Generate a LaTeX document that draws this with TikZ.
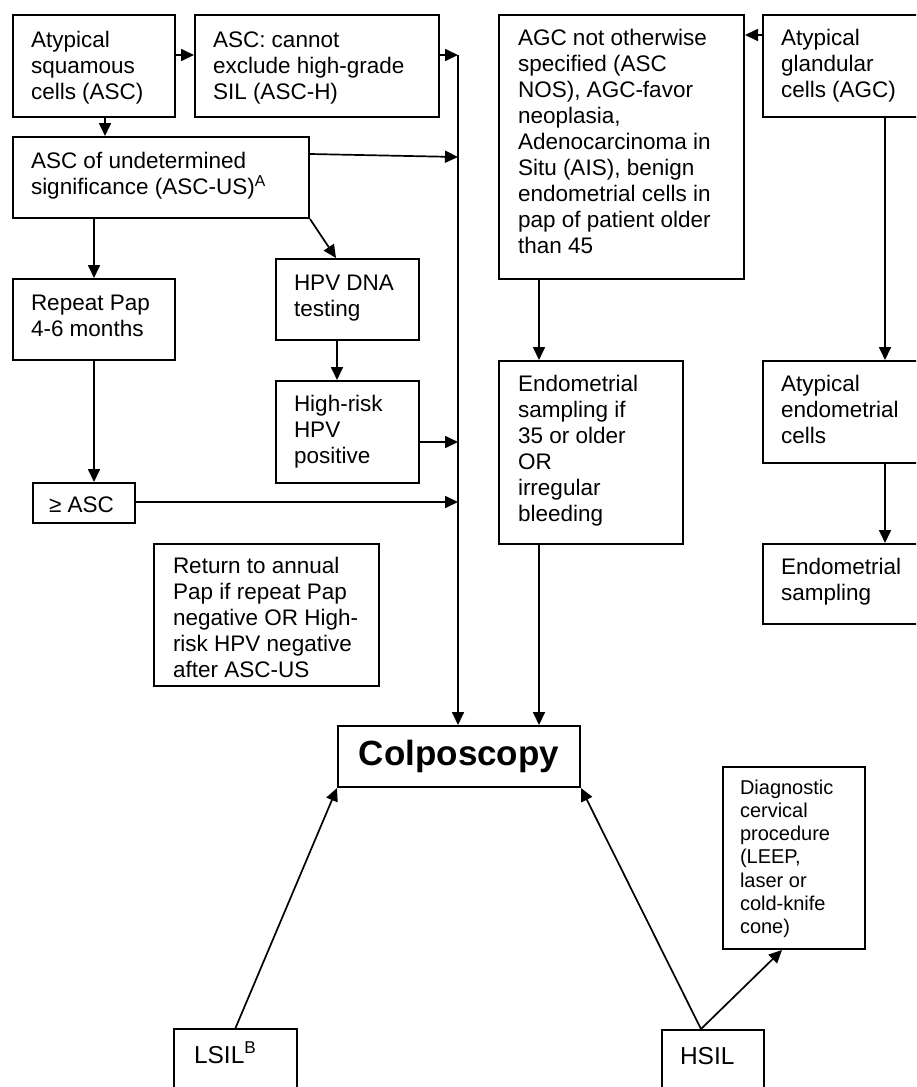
\documentclass[tikz,border=0pt]{standalone}
\usepackage{fontspec}
\setmainfont{Liberation Sans}
\usetikzlibrary{arrows.meta,calc}
% #1 width, #2 height, #3 first baseline, #4 font, #5 left margin, #6 text
\newcommand\bxt[6]{\parbox[c][#2pt][t]{#1pt}{#4\raggedright\leftskip=#5pt\relax\rule{0pt}{#3pt}#6}}
\newcommand\mfont{\fontsize{22.5}{26}\selectfont}
\newcommand\dfont{\fontsize{20}{23.3}\selectfont}
\newcommand\sfont{\fontsize{24.5}{28}\selectfont}
\begin{document}
\begin{tikzpicture}[x=1pt,y=-1pt,
  bx/.style={draw, line width=2pt, inner sep=0pt, anchor=north west},
  arr/.style={line width=1.7pt, -{Triangle[length=13pt,width=12pt]}}]
\useasboundingbox (0,0) rectangle (916,1087);
\fill[white] (0,0) rectangle (916,1087);
\clip (0,0) rectangle (916,1087);

\node[bx] (asc) at (12,14) {\bxt{162}{102}{32}{\mfont}{18}{Atypical\\squamous\\cells (ASC)}};
\node[bx] (asch) at (194,14) {\bxt{244}{102}{32}{\mfont}{18}{ASC: cannot\\exclude high-grade\\SIL (ASC-H)}};
\node[bx] (ascus) at (12,136) {\bxt{296}{81}{31}{\mfont}{18}{ASC of undetermined\\significance (ASC-US)\textsuperscript{A}}};
\node[bx] (repeat) at (12,278) {\bxt{162}{81}{31}{\mfont}{18}{Repeat Pap\\4-6 months}};
\node[bx] (hpv) at (275,258) {\bxt{143}{81}{31}{\mfont}{18}{HPV DNA\\testing}};
\node[bx] (hr) at (275,380) {\bxt{143}{102}{30}{\mfont}{18}{High-risk\\HPV\\positive}};
\node[bx] (geasc) at (32,482) {\bxt{102}{40}{29}{\mfont}{16}{≥ ASC}};
\node[bx] (ret) at (153,543) {\bxt{225}{142}{29}{\mfont}{19}{Return to annual\\Pap if repeat Pap\\negative OR High-\\risk HPV negative\\after ASC-US}};
\node[bx] (agcnos) at (498,14) {\bxt{245}{264}{30}{\mfont}{19}{AGC not otherwise\\specified (ASC\\NOS), AGC-favor\\neoplasia,\\Adenocarcinoma in\\Situ (AIS), benign\\endometrial cells in\\pap of patient older\\than 45}};
\node[bx] (agc) at (762,14) {\bxt{180}{102}{30}{\mfont}{18}{Atypical\\glandular\\cells (AGC)}};
\node[bx] (endo1) at (498,360) {\bxt{184}{183}{30}{\mfont}{19}{Endometrial\\sampling if\\35 or older\\OR\\irregular\\bleeding}};
\node[bx] (aec) at (762,360) {\bxt{180}{102}{30}{\mfont}{18}{Atypical\\endometrial\\cells}};
\node[bx] (endo2) at (762,543) {\bxt{180}{80}{30}{\mfont}{18}{Endometrial\\sampling}};
\node[bx] (diag) at (722,766) {\bxt{142}{182}{27}{\dfont}{17}{Diagnostic\\cervical\\procedure\\(LEEP,\\laser or\\cold-knife\\cone)}};
\node[bx] (lsil) at (173,1028) {\bxt{123}{80}{34}{\sfont}{20}{LSIL\textsuperscript{B}}};
\node[bx] (hsil) at (661,1029) {\bxt{102}{80}{34}{\sfont}{18}{HSIL}};
\node[draw, line width=2pt, inner sep=0pt, anchor=north west, minimum width=242pt, minimum height=61pt,
  font=\fontsize{35}{40}\selectfont\bfseries] (colpo) at (337,725) {Colposcopy};

% collector line
\coordinate (b1) at (458,55);
\coordinate (b2) at (458,157);
\coordinate (b3) at (458,442);
\coordinate (b4) at (458,502);
\draw[arr] (b1) -- (b1 |- colpo.north);
\draw[arr] (asc.east |- b1) -- (asch.west |- b1);
\draw[arr] (asch.east |- b1) -- (b1);
\draw[arr] ($(ascus.north east)+(0,18)$) -- (b2);
\draw[arr] (hr.east |- b3) -- (b3);
\draw[arr] (geasc.east |- b4) -- (b4);

\draw[arr] ($(asc.south west)+(93,0)$) -- ($(ascus.north west)+(93,0)$);
\draw[arr] (ascus.south -| repeat.north) -- (repeat.north);
\draw[arr] (ascus.south east) -- ($(hpv.north west)+(61,0)$);
\draw[arr] ($(hpv.south west)+(62,0)$) -- ($(hr.north west)+(62,0)$);
\draw[arr] (repeat.south) -- (repeat.south |- geasc.north);

% glandular side
\draw[arr] ($(agc.north west)+(0,21)$) -- ($(agcnos.north east)+(0,21)$);
\draw[arr] ($(agc.south west)+(123,0)$) -- ($(aec.north west)+(123,0)$);
\draw[arr] ($(aec.south west)+(123,0)$) -- ($(endo2.north west)+(123,0)$);
\draw[arr] ($(agcnos.south west)+(41,0)$) -- ($(endo1.north west)+(41,0)$);
\coordinate (e1) at ($(endo1.south west)+(41,0)$);
\draw[arr] (e1) -- (e1 |- colpo.north);

% bottom
\draw[arr] (lsil.north) -- (colpo.south west);
\coordinate (h1) at ($(hsil.north west)+(40,0)$);
\draw[arr] (h1) -- (colpo.south east);
\draw[arr] (h1) -- ($(diag.south west)+(60,0)$);
\end{tikzpicture}
\end{document}
